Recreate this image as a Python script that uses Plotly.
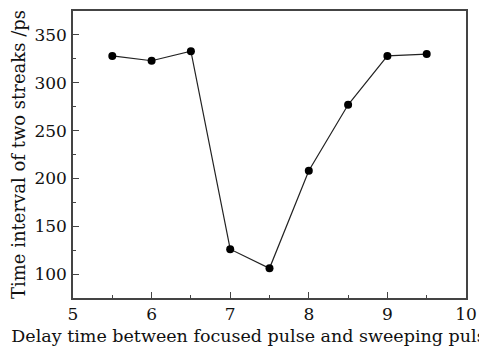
import plotly.graph_objects as go

delay_ns = [5.5, 6.0, 6.5, 7.0, 7.5, 8.0, 8.5, 9.0, 9.5]
interval_ps = [328, 323, 333, 126, 106, 208, 277, 328, 330]

font_family = "DejaVu Serif"

fig = go.Figure()
fig.add_trace(go.Scatter(
    x=delay_ns, y=interval_ps, mode="lines+markers",
    line=dict(color="#222222", width=1.2),
    marker=dict(color="black", size=8),
    showlegend=False,
))

axis_common = dict(
    showline=True, linecolor="#444444", linewidth=1.5, mirror=True,
    ticks="inside", ticklen=6, tickwidth=1.2, tickcolor="#444444",
    showgrid=False, zeroline=False, automargin=False,
    tickfont=dict(family=font_family, size=17, color="#111111"),
)

fig.update_layout(
    width=479, height=346,
    margin=dict(l=73, r=13, t=11, b=48),
    paper_bgcolor="white", plot_bgcolor="white",
    xaxis=dict(
        range=[5, 10], dtick=1,
        minor=dict(dtick=0.5, ticks="inside", ticklen=3, tickcolor="#444444"),
        ticklabelstandoff=0,
        title=dict(text="Delay time between focused pulse and sweeping pulse /ns",
                   font=dict(family=font_family, size=17.5, color="#111111"), standoff=9),
        **axis_common,
    ),
    yaxis=dict(
        range=[75, 375], dtick=50, tick0=100,
        minor=dict(dtick=25, ticks="inside", ticklen=3, tickcolor="#444444"),
        ticklabelstandoff=1,
        title=dict(text="Time interval of two streaks /ps",
                   font=dict(family=font_family, size=18, color="#111111"), standoff=4),
        **axis_common,
    ),
)

fig.write_html("out.html")
